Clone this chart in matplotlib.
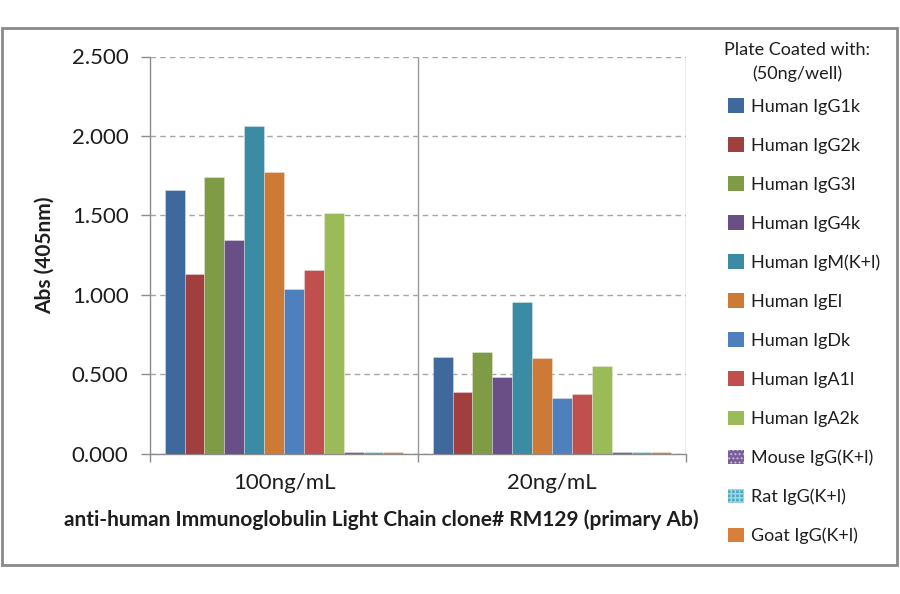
import matplotlib
matplotlib.use("Agg")
import matplotlib.pyplot as plt
import numpy as np
from matplotlib.patches import Patch, Rectangle

plt.rcParams['font.family'] = ['Lato', 'DejaVu Sans']
plt.rcParams['hatch.linewidth'] = 1.0

groups = ["100ng/mL", "20ng/mL"]
series = ["Human IgG1k", "Human IgG2k", "Human IgG3l", "Human IgG4k",
          "Human IgM(K+l)", "Human IgEl", "Human IgDk", "Human IgA1l",
          "Human IgA2k", "Mouse IgG(K+l)", "Rat IgG(K+l)", "Goat IgG(K+l)"]
values_100 = [1.658, 1.128, 1.740, 1.343, 2.063, 1.771, 1.036, 1.157, 1.514, 0.008, 0.008, 0.012]
values_20 = [0.609, 0.389, 0.637, 0.479, 0.951, 0.600, 0.347, 0.376, 0.554, 0.007, 0.007, 0.010]
colors = ["#3F689C", "#A03F3D", "#7F9B46", "#6A4F87", "#3B8BA4", "#CE7A37",
          "#4F80BE", "#C0504D", "#9BBB59", "#7A5E9C", "#4BACC6", "#D8803A"]
hatches = [None]*9 + ["....", "++++", None]
yticks = [0.0, 0.5, 1.0, 1.5, 2.0, 2.5]

text_color = "#1E1E1E"
fig = plt.figure(figsize=(9, 5.94), dpi=100)
ax = fig.add_axes([150/900, 1-453.5/594, 536/900, (453.5-56.5)/594])

n = len(series)
w = 0.0742
x = np.arange(len(groups))
for i in range(n):
    vals = [values_100[i], values_20[i]]
    ax.bar(x + (i - (n-1)/2)*w, vals, width=w, color=colors[i],
           edgecolor=(1, 1, 1, 0.35), linewidth=0.6, zorder=3)

ax.set_xlim(-0.5, 1.5)
ax.set_ylim(0, 2.5)
ax.set_yticks(yticks)
ax.set_yticklabels([f"{v:.3f}" for v in yticks])
ax.set_xticks(x)
ax.set_xticklabels(groups)
ax.set_xticks([-0.5, 0.5, 1.5], minor=True)
ax.tick_params(axis='x', which='major', length=0, pad=14, labelsize=16, labelcolor=text_color)
ax.tick_params(axis='x', which='minor', length=6, width=1, color="#8C8C8C", direction='out')
ax.tick_params(axis='y', length=6.5, width=1, color="#8C8C8C", pad=9, labelsize=16, labelcolor=text_color)

ax.yaxis.grid(True, linestyle=(0, (4, 3)), color="#A6A6A6", linewidth=1, zorder=0)
for xb in [0.5, 1.5]:
    ax.axvline(xb, color="#9A9A9A", linewidth=1, zorder=1)
for s in ['top', 'right']:
    ax.spines[s].set_visible(False)
for s in ['left', 'bottom']:
    ax.spines[s].set_color("#8C8C8C")
    ax.spines[s].set_linewidth(1)
    ax.spines[s].set_zorder(2)

ax.set_ylabel("Abs (405nm)", fontsize=15, fontweight='bold', color=text_color, labelpad=12)
fig.text(381/900, 1-520/594, "anti-human Immunoglobulin Light Chain clone# RM129 (primary Ab)",
         ha='center', va='center', fontsize=15, fontweight='bold', color=text_color)

handles = []
for i in range(n):
    h = Patch(facecolor=colors[i], edgecolor=(1, 1, 1, 0.5) if hatches[i] else 'none',
              hatch=hatches[i], linewidth=0)
    handles.append(h)
leg = fig.legend(handles, series, loc='upper left', bbox_to_anchor=(721/900, 1-91/594),
                 frameon=False, fontsize=13,
                 handlelength=0.85, handleheight=0.85,
                 handletextpad=0.4, labelspacing=1.25, borderaxespad=0)
for t in leg.get_texts():
    t.set_color(text_color)
fig.text(797/900, 1-50/594, "Plate Coated with:", ha='center', va='center',
         fontsize=13, color=text_color)
fig.text(797/900, 1-74/594, "(50ng/well)", ha='center', va='center',
         fontsize=13, color=text_color)

fig.patches.append(Rectangle((1.5/900, 1-565/594), 895/900, (565-28)/594,
                             transform=fig.transFigure, fill=False,
                             edgecolor="#8A8A8A", linewidth=2))
fig.savefig("out.png", dpi=100)
